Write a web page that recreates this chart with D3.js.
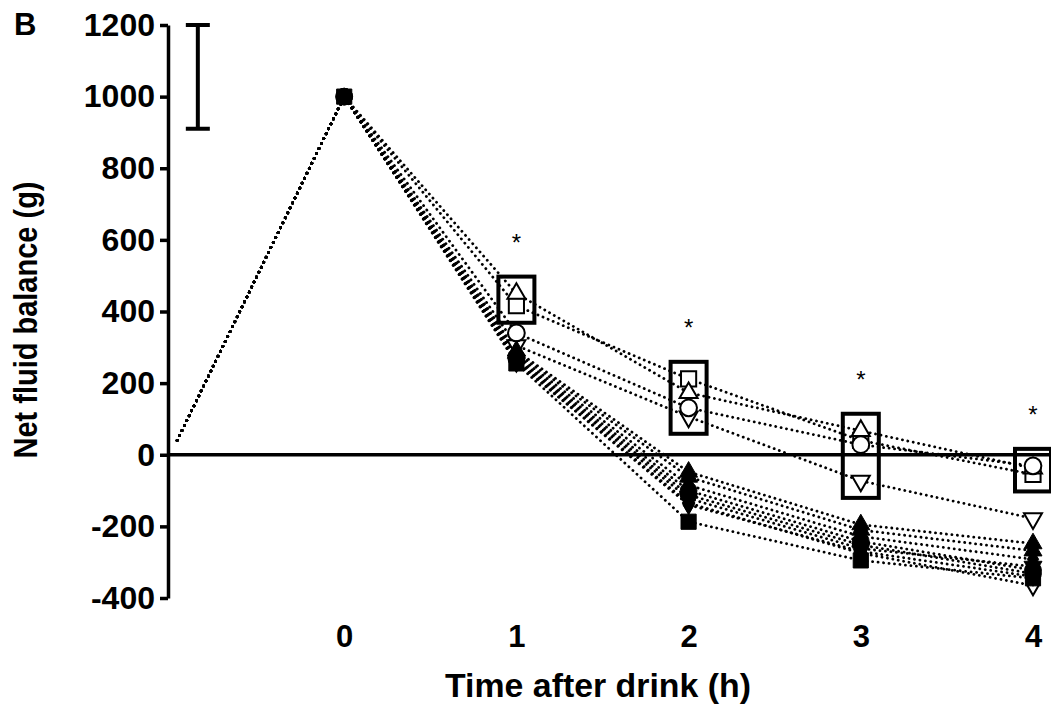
<!DOCTYPE html>
<html>
<head>
<meta charset="utf-8">
<script src="https://cdn.jsdelivr.net/npm/d3@7"></script>
<style>
  body { margin: 0; background: #fff; }
  svg { display: block; font-family: "Liberation Sans", Arial, sans-serif; }
</style>
</head>
<body>
<div id="chart"></div>
<script>
// time points (h); first point is the pre-drink baseline
const times = [-0.97, 0, 1, 2, 3, 4];
const xTickValues = [0, 1, 2, 3, 4];
const yTickValues = [-400, -200, 0, 200, 400, 600, 800, 1000, 1200];

// net fluid balance (g) per beverage
const openSquare = [40, 1000, 416, 212, 40, -55];
const openTriangle = [40, 1000, 450, 173, 67, -38];
const openCircle = [40, 1000, 340, 131, 28, -31];
const openDownTriangle = [40, 1000, 305, 106, -73, -178];
const openDiamond = [40, 1000, 260, -135, -275, -365];
const filledTriangle = [40, 1000, 290, -48, -195, -248];
const filledTriangle2 = [40, 1000, 284, -62, -210, -268];
const filledDiamond = [40, 1000, 278, -85, -228, -292];
const filledCircle2 = [40, 1000, 272, -100, -242, -322];
const filledDownTriangle = [40, 1000, 264, -122, -262, -312];
const filledCircle = [40, 1000, 268, -112, -252, -332];
const filledDiamond2 = [40, 1000, 258, -140, -270, -340];
const filledSquare = [40, 1000, 255, -187, -295, -345];

// boxed (significantly different) beverages at each hour
const boxHours = [1, 2, 3, 4];
const boxMembers = [
  [openTriangle, openSquare],
  [openSquare, openTriangle, openCircle, openDownTriangle],
  [openTriangle, openSquare, openCircle, openDownTriangle],
  [openCircle, openSquare]
];

// scale bar (g)
const errorBar = [910, 1200];
const errorBarTime = -0.85;

const series = [
  { values: openDiamond, shape: "diamond", filled: false },
  { values: openDownTriangle, shape: "downTriangle", filled: false },
  { values: openSquare, shape: "square", filled: false },
  { values: openTriangle, shape: "triangle", filled: false },
  { values: openCircle, shape: "circle", filled: false },
  { values: filledSquare, shape: "square", filled: true },
  { values: filledDiamond2, shape: "diamond", filled: true },
  { values: filledDownTriangle, shape: "downTriangle", filled: true },
  { values: filledCircle2, shape: "circle", filled: true },
  { values: filledDiamond, shape: "diamond", filled: true },
  { values: filledTriangle2, shape: "triangle", filled: true },
  { values: filledTriangle, shape: "triangle", filled: true },
  { values: filledCircle, shape: "circle", filled: true }
];

const width = 1051;
const height = 710;
const axisX = 168;

const x = d3.scaleLinear().domain([-1, 4]).range([172, 1033]);
const y = d3.scaleLinear().domain([-400, 1200]).range([598, 25]);

const svg = d3
  .select("#chart")
  .append("svg")
  .attr("width", width)
  .attr("height", height);

// zero line
svg
  .append("line")
  .attr("x1", axisX)
  .attr("x2", width)
  .attr("y1", y(0))
  .attr("y2", y(0))
  .attr("stroke", "#000")
  .attr("stroke-width", 3.5);

// y axis
const yAxis = svg
  .append("g")
  .attr("transform", `translate(${axisX},0)`)
  .call(d3.axisLeft(y).tickValues(yTickValues).tickSize(8).tickSizeOuter(0).tickPadding(5).tickFormat((d) => String(d)));
yAxis.select(".domain").attr("stroke-width", 3.5);
yAxis.selectAll(".tick line").attr("stroke-width", 3.5);
yAxis
  .selectAll(".tick text")
  .attr("font-size", 32)
  .attr("font-weight", "bold")
  .attr("font-family", "Liberation Sans, Arial, sans-serif")
  .attr("fill", "#000");

// x axis (labels only)
const xAxis = svg
  .append("g")
  .attr("transform", `translate(0,${y(-400)})`)
  .call(d3.axisBottom(x).tickValues(xTickValues).tickSize(0).tickPadding(27).tickFormat((d) => String(d)));
xAxis.select(".domain").remove();
xAxis
  .selectAll(".tick text")
  .attr("font-size", 31)
  .attr("font-weight", "bold")
  .attr("font-family", "Liberation Sans, Arial, sans-serif")
  .attr("fill", "#000");

// axis titles
svg
  .append("text")
  .attr("x", 598)
  .attr("y", 697)
  .attr("text-anchor", "middle")
  .attr("font-size", 33)
  .attr("font-weight", "bold")
  .attr("textLength", 306)
  .attr("lengthAdjust", "spacingAndGlyphs")
  .text("Time after drink (h)");

svg
  .append("text")
  .attr("transform", "translate(37,320) rotate(-90)")
  .attr("text-anchor", "middle")
  .attr("font-size", 33)
  .attr("font-weight", "bold")
  .attr("textLength", 277)
  .attr("lengthAdjust", "spacingAndGlyphs")
  .text("Net fluid balance (g)");

svg
  .append("text")
  .attr("x", 14)
  .attr("y", 35)
  .attr("font-size", 31)
  .attr("font-weight", "bold")
  .text("B");

// scale bar
const ebx = x(errorBarTime);
svg
  .append("path")
  .attr(
    "d",
    `M${ebx},${y(errorBar[0])}V${y(errorBar[1])}` +
      `M${ebx - 12},${y(errorBar[0])}H${ebx + 12}` +
      `M${ebx - 12},${y(errorBar[1])}H${ebx + 12}`
  )
  .attr("stroke", "#000")
  .attr("stroke-width", 4)
  .attr("fill", "none");

// dotted lines
const line = d3
  .line()
  .x((d, i) => x(times[i]))
  .y((d) => y(d));

svg
  .selectAll(".series-line")
  .data(series)
  .enter()
  .append("path")
  .attr("class", "series-line")
  .attr("d", (s) => line(s.values))
  .attr("fill", "none")
  .attr("stroke", "#000")
  .attr("stroke-width", 2.8)
  .attr("stroke-linecap", "round")
  .attr("stroke-dasharray", "0.1 5.4");

// markers
const symbols = {
  circle: d3.symbol().type(d3.symbolCircle).size(220),
  square: d3.symbol().type(d3.symbolSquare).size(230),
  triangle: d3.symbol().type(d3.symbolTriangle).size(140),
  downTriangle: d3.symbol().type(d3.symbolTriangle).size(140),
  diamond: d3.symbol().type(d3.symbolDiamond).size(110)
};

series.forEach((s) => {
  // at t = 0 every beverage sits at the same point; only round/square marks show there
  const pts = s.values
    .map((v, i) => ({ t: times[i], v }))
    .slice(1)
    .filter((d) => d.t !== 0 || (s.filled && (s.shape === "circle" || s.shape === "square")));
  svg
    .append("g")
    .selectAll("path")
    .data(pts)
    .enter()
    .append("path")
    .attr("d", symbols[s.shape]())
    .attr(
      "transform",
      (d) => `translate(${x(d.t)},${y(d.v)})` + (s.shape === "downTriangle" ? " rotate(180)" : "")
    )
    .attr("fill", s.filled ? "#000" : "#fff")
    .attr("stroke", "#000")
    .attr("stroke-width", s.filled ? 1 : 2);
});

// significance boxes and asterisks
const boxPad = 17;
boxHours.forEach((h, k) => {
  const vals = boxMembers[k].map((arr) => arr[times.indexOf(h)]);
  const top = y(d3.max(vals)) - boxPad;
  const bottom = y(d3.min(vals)) + boxPad;
  svg
    .append("rect")
    .attr("x", x(h) - 18)
    .attr("y", top)
    .attr("width", 36)
    .attr("height", bottom - top)
    .attr("fill", "none")
    .attr("stroke", "#000")
    .attr("stroke-width", 4);
  svg
    .append("text")
    .attr("x", x(h))
    .attr("y", top - 26)
    .attr("text-anchor", "middle")
    .attr("font-size", 24)
    .text("*");
});
</script>
</body>
</html>
